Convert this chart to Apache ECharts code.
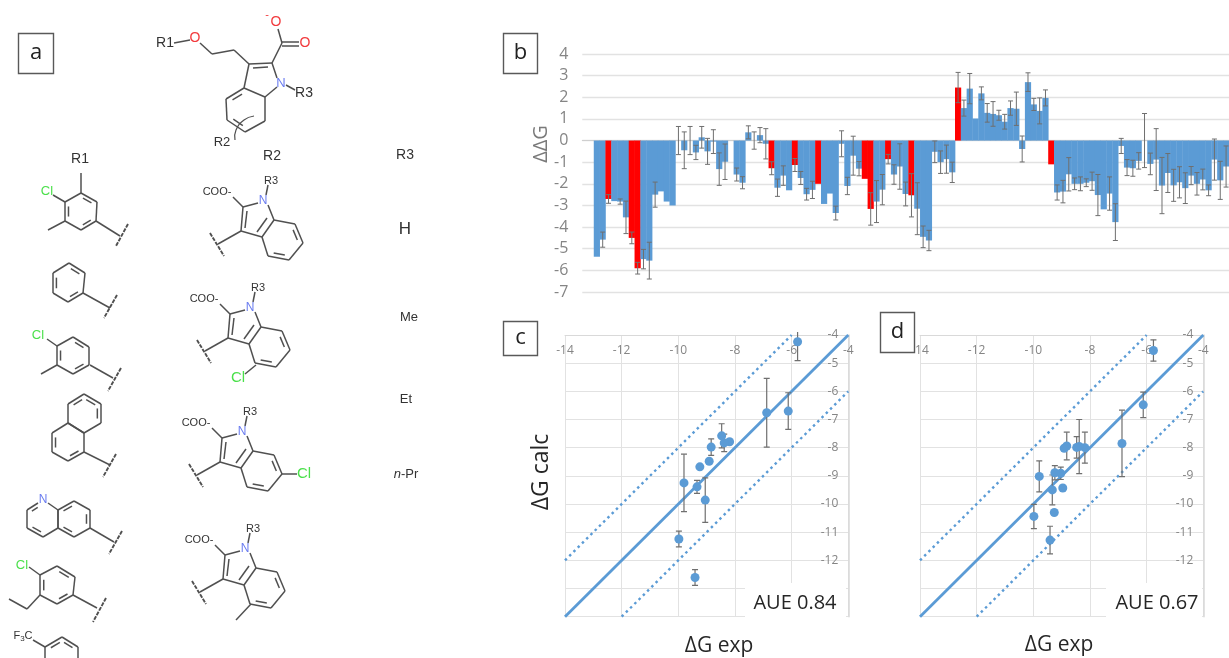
<!DOCTYPE html>
<html><head><meta charset="utf-8">
<style>html,body{margin:0;padding:0;background:#fff;overflow:hidden}#main{width:1229px;height:658px;filter:blur(0.7px)}</style>
<script src="https://cdn.jsdelivr.net/npm/echarts@6/dist/echarts.min.js"></script>
</head><body><div id="main"></div>
<script>
// Panel b: ddG per compound pair (null = no bar in the two leading slots)
const barValues = [null,null,-5.37,-4.58,-2.7,-2.8,-2.82,-3.55,-4.5,-5.9,-5.48,-5.55,-2.5,-2.35,-2.82,-3,
 0,-0.45,0,-0.55,0.15,-0.5,-0.05,-1.32,-0.98,0,-1.57,-1.95,0.38,0,0.25,-0.15,-1.28,-2.18,-1.62,-2.3,-1.13,-1.73,-2.48,-2.28,-2,-2.93,-2.45,-3.35,-0.15,-2.1,-0.7,-1.3,-1.77,
 -3.16,-2.82,-2.27,-0.86,-1.57,-1.2,-2.47,-2.53,-3.15,-4.45,-4.62,-0.52,-1,-0.86,-1.47,2.45,1.5,2.4,1.02,2.18,1.28,1.23,1.17,0.87,1.5,1.47,-0.39,2.7,1.67,1.37,1.97,-1.1,
 -2.4,-2.36,-1.56,-2,-2,-1.95,-1.88,-2.52,-3.18,-2.45,-3.77,-0.25,-1.25,-1.28,-0.94,0,-1.08,-0.88,-2.08,-1.5,-2.07,-1.93,-2.2,-1.62,-2,-1.8,-2.3,-0.88,-1.84,-1.2];
const barErrors = [0,0,0,0.35,0.2,0,0.12,0.75,0.27,0.27,0.45,0.85,0.58,0,0,0,
 0.65,0.85,0.65,0.33,0.5,0.6,0.55,0.75,0.82,0,0.3,0.28,0.3,0.4,0.35,0.7,0.3,0.4,0.45,0,0.3,0.3,0.27,0.4,0,0,0,0.32,0.6,0.4,0.9,0.33,0,
 0.75,0.97,0.7,0.22,0.45,1.05,0.55,1,1.2,0.5,0.47,0.5,0.52,0.65,0.47,0.7,0.37,0.7,0,0.3,0.43,0.57,0.23,0.34,0.33,0.77,0.6,0.43,0.28,0.6,0.37,0,
 0.35,0.52,0.77,0.27,0.32,0.18,0.42,0.95,0,0.77,0.85,0.35,0.37,0.37,0.38,1.25,0.5,1.43,1.3,0.9,0.74,0.72,0.71,0.42,0.52,0.48,0.25,0.95,0.88,0.95];
const redBars = [4,8,9,32,36,40,48,49,52,56,64,80];
const barTicks = [4,3,2,1,0,-1,-2,-3,-4,-5,-6,-7];

// Panel c: experimental, calculated, calculated error
const expC = [-5.79,-6.12,-6.88,-8.19,-8.38,-8.47,-8.84,-8.91,-9.24,-9.8,-9.34,-9.05,-9.98,-9.41];
const calcC = [-4.24,-6.7,-6.76,-7.79,-7.83,-7.58,-7.98,-8.48,-8.68,-9.25,-9.39,-9.86,-11.24,-12.61];
const errC = [0.67,0.65,1.22,0,0.31,0.43,0.29,0,0,1.02,0.23,0.79,0.28,0.28];
// Panel d
const expD = [-5.76,-6.12,-6.87,-8.18,-8.38,-8.47,-8.82,-8.91,-9.03,-9.24,-9.79,-8.96,-9.33,-9.26,-9.98,-9.41];
const calcD = [-4.55,-6.48,-7.85,-8,-7.96,-7.99,-7.94,-8.02,-8.91,-8.89,-9.02,-9.43,-9.5,-10.3,-10.44,-11.28];
const errD = [0.38,0.45,1.18,0.55,0.96,0.38,0.49,0,0.22,0.25,0.55,0,0.53,0,0.43,0.49];
// Reference lines
const lineIdentity = [[-14,-14],[-4,-4]];
const lineUpper = [[-14,-12],[-6,-4]];
const lineLower = [[-12,-14],[-4,-6]];

const BLUE='#5b9bd5', RED='#ff0000', GRID='#e2e2e2', TICK='#858585', BOND='#505050', ERR='#6f6f6f';
const SANS='"Open Sans",sans-serif', ARIAL='"Liberation Sans",sans-serif';
const chart = echarts.init(document.getElementById('main'),null,{renderer:'canvas'});

// ---------- error-bar renderers, all positioned through the axes ----------
function errRenderer(cap,lw){
  return function(params,api){
    const x=api.value(0), lo=api.coord([x,api.value(1)]), hi=api.coord([x,api.value(2)]);
    const st={stroke:ERR,lineWidth:lw};
    const cs=params.coordSys;
    return {type:'group',clipPath:{type:'rect',shape:{x:cs.x,y:cs.y-3,width:cs.width,height:cs.height+6}},children:[
      {type:'line',shape:{x1:lo[0],y1:lo[1],x2:hi[0],y2:hi[1]},style:st},
      {type:'line',shape:{x1:lo[0]-cap,y1:lo[1],x2:lo[0]+cap,y2:lo[1]},style:st},
      {type:'line',shape:{x1:hi[0]-cap,y1:hi[1],x2:hi[0]+cap,y2:hi[1]},style:st}]};
  };
}
const barErrData=[]; barValues.forEach((v,i)=>{ if(v!==null&&barErrors[i]>0) barErrData.push([i,v-barErrors[i],v+barErrors[i]]); });
function scatterErr(xs,ys,es){const o=[];xs.forEach((x,i)=>{if(es[i]>0)o.push([x,ys[i]-es[i],ys[i]+es[i]]);});return o;}

function panelSeries(idx,xs,ys,es){
  return [
   {type:'line',xAxisIndex:idx,yAxisIndex:idx,data:lineUpper,symbol:'none',silent:true,lineStyle:{color:BLUE,width:2.4,type:[2.5,3.5]},z:3},
   {type:'line',xAxisIndex:idx,yAxisIndex:idx,data:lineLower,symbol:'none',silent:true,lineStyle:{color:BLUE,width:2.4,type:[2.5,3.5]},z:3},
   {type:'line',xAxisIndex:idx,yAxisIndex:idx,data:lineIdentity,symbol:'none',silent:true,lineStyle:{color:BLUE,width:2.8},z:3},
   {type:'custom',xAxisIndex:idx,yAxisIndex:idx,data:scatterErr(xs,ys,es),renderItem:errRenderer(3,1.2),encode:{x:0,y:[1,2]},z:4,silent:true},
   {type:'scatter',xAxisIndex:idx,yAxisIndex:idx,data:xs.map((x,i)=>[x,ys[i]]),symbolSize:9,itemStyle:{color:BLUE,opacity:1},z:5,silent:true}
  ];
}
function panelX(gi){return {type:'value',gridIndex:gi,position:'top',min:-14,max:-4,interval:2,
  axisLine:{show:true,onZero:false,lineStyle:{color:'#d9d9d9'}},axisTick:{show:false},
  axisLabel:{inside:true,margin:10,color:TICK,fontSize:12,fontFamily:SANS,showMinLabel:true,showMaxLabel:true,hideOverlap:false},
  splitLine:{show:true,lineStyle:{color:GRID,width:1}}};}
function panelY(gi){return {type:'value',gridIndex:gi,position:'right',min:-14,max:-4,interval:1,
  axisLine:{show:true,onZero:false,lineStyle:{color:'#d9d9d9',width:1.5}},axisTick:{show:false},
  axisLabel:{inside:true,margin:10,color:TICK,fontSize:12,fontFamily:SANS,showMinLabel:true,showMaxLabel:true,hideOverlap:false},
  splitLine:{show:true,lineStyle:{color:GRID,width:1}}};}

// ---------- drawing helpers for the scheme in panel a ----------
const G=[];
const L=(a,b,w,dash)=>G.push({type:'line',silent:true,shape:{x1:a[0],y1:a[1],x2:b[0],y2:b[1]},style:{stroke:BOND,lineWidth:w||1.5,lineDash:dash||null}});
const T=(s,x,y,size,col,extra)=>G.push({type:'text',silent:true,x:x,y:y,z:60,style:Object.assign({text:s,fill:col||'#333',font:(size||13)+'px '+ARIAL,align:'center',verticalAlign:'middle'},extra||{})});
const chain=(p)=>{for(let i=0;i<p.length-1;i++)L(p[i],p[i+1]);};
function inner(a,b,c){
  const f=0.22, s=0.16;
  const a2=[a[0]+(c[0]-a[0])*f,a[1]+(c[1]-a[1])*f], b2=[b[0]+(c[0]-b[0])*f,b[1]+(c[1]-b[1])*f];
  L([a2[0]+(b2[0]-a2[0])*s,a2[1]+(b2[1]-a2[1])*s],[b2[0]-(b2[0]-a2[0])*s,b2[1]-(b2[1]-a2[1])*s]);
}
function ring(p,dbl){
  const c=[p.reduce((s,q)=>s+q[0],0)/p.length,p.reduce((s,q)=>s+q[1],0)/p.length];
  p.forEach((q,i)=>L(q,p[(i+1)%p.length]));
  (dbl||[]).forEach(i=>inner(p[i],p[(i+1)%p.length],c));
}
const wiggle=(a,b)=>{L(a,b,1.9,[4,1.2]);};
const GREEN='#4be04b', NBLUE='#6a7cf0', ORED='#f2393c';

// core structure
T('R1',165,43,14);T('O',195,38,14,ORED);T('O',276,22,14,ORED);T('-',267,15,11,ORED);T('O',305,43,14,ORED);T('N',281,83,13,NBLUE);T('R3',304,93,14);T('R2',222,142,13);
L([174,43],[190,40]);chain([[200,43],[212,54],[234,50],[249,64]]);
L([249,64],[272,63]);L([253,68],[268,67]);L([272,63],[282,43]);L([282,43],[278,29]);
L([282,42],[299,42]);L([282,46],[299,46]);L([272,63],[277,78]);L([286,85],[295,90]);L([277,87],[265,97]);L([249,64],[244,88]);
ring([[244,88],[226,99],[227,120],[245,132],[265,121],[265,97]],[0,2]);
G.push({type:'polyline',silent:true,shape:{points:[[235,140],[236,130],[244,120],[254,116]],smooth:0.5},style:{stroke:BOND,lineWidth:1.2,fill:'none'}});

// column heads and R3 list
T('R1',80,159,14);T('R2',272,156,14);T('R3',405,155,14);T('H',405,229,17);T('Me',409,317,13);T('Et',406,399,13);
G.push({type:'text',silent:true,x:406,y:474,style:{text:'{i|n}-Pr',font:'13px '+ARIAL,fill:'#333',align:'center',verticalAlign:'middle',rich:{i:{fontStyle:'italic',fontSize:13,fontFamily:ARIAL,fill:'#333'}}}});

// R1 fragments
ring([[81,193],[97,202],[96,221],[81,230],[65,221],[65,202]],[0,2,4]);L([81,193],[81,173]);L([65,202],[53,195]);L([65,221],[48,230]);L([96,221],[120,236]);wiggle([128,224],[116,246]);T('Cl',47,191,13,GREEN);
ring([[69,263],[85,273],[83,293],[68,302],[53,293],[53,273]],[0,2,4]);L([83,293],[110,308]);wiggle([117,295],[104,318]);
ring([[73,337],[89,347],[89,365],[73,374],[57,365],[57,346]],[0,2,4]);L([57,346],[47,339]);L([57,365],[41,374]);L([90,365],[113,378]);wiggle([121,368],[108,391]);T('Cl',38,335,13,GREEN);
ring([[84,394],[101,404],[101,423],[84,433],[68,423],[68,404]],[0,1,5]);ring([[68,423],[84,433],[84,452],[68,461],[52,452],[52,433]],[2,4]);L([84,452],[110,465]);wiggle([116,454],[103,477]);
chain([[38,503],[27,510],[27,528],[43,537],[58,528],[58,510],[48,503]]);inner([27,510],[38,503],[43,519]);inner([27,528],[43,537],[43,519]);
ring([[58,510],[74,501],[90,510],[90,528],[74,537],[58,528]],[0,2,4]);L([90,528],[114,542]);wiggle([122,531],[109,554]);T('N',43,500,12,NBLUE);
ring([[57,566],[75,577],[73,595],[57,604],[40,595],[40,575]],[0,2,4]);L([40,575],[29,567]);chain([[40,595],[27,609],[9,599]]);L([73,595],[97,608]);wiggle([106,598],[93,622]);T('Cl',22,565,13,GREEN);
chain([[45,665],[45,647],[62,637],[78,647],[78,665]]);inner([45,647],[62,637],[62,656]);inner([62,637],[78,647],[62,656]);L([33,640],[45,647]);
G.push({type:'text',silent:true,x:23,y:636,style:{text:'F{s|3}C',font:'11px '+ARIAL,fill:'#333',align:'center',verticalAlign:'middle',rich:{s:{fontSize:8,fontFamily:ARIAL,fill:'#333',verticalAlign:'bottom',padding:[6,0,0,0]}}}});

// R2 fragments
function indole(dx,dy){
  const P=(x,y)=>[x+dx,y+dy];
  T('COO-',217+dx,192+dy,11);T('R3',271+dx,181+dy,11);T('N',263+dx,201+dy,12,NBLUE);
  L(P(266,195),P(268,185));L(P(233,197),P(243,207));L(P(243,207),P(258,203));L(P(268,205),P(274,220));
  L(P(243,207),P(241,231));L(P(247,211),P(245,228));L(P(241,231),P(262,237));L(P(241,231),P(218,244));wiggle(P(210,233),P(224,256));
  L(P(257,232),P(267,218)); // inner line of the fused double bond
  ring([P(274,220),P(295,224),P(303,243),P(289,260),P(268,256),P(262,237)],[1,3]);
}
indole(0,0);
indole(-13,107);L([256,365],[245,374]);T('Cl',238,378,15,GREEN);
indole(-21,231);L([282,474],[297,474]);T('Cl',304,474,15,GREEN);
indole(-18,348);L([251,604],[236,620]);

// panel tags
function tag(s,x,y,w,h){
  G.push({type:'rect',silent:true,shape:{x:x,y:y,width:w,height:h},z:55,style:{fill:'#fff',stroke:'#595959',lineWidth:1.4}});
  T(s,x+w/2,y+h/2-1,22,'#222',{font:'22px '+SANS});
}
tag('a',18.5,33.5,35,40);tag('b',503.5,33.5,34,40);tag('c',503.5,321.5,34,34);tag('d',880.5,312.5,34,40);

// panel text
const big=(s,x,y,size,rot,col)=>G.push({type:'text',silent:true,x:x,y:y,rotation:rot||0,z:60,style:{text:s,fill:col||'#262626',font:size+'px '+SANS,align:'center',verticalAlign:'middle'}});
big('\u0394\u0394G',541,144,20,Math.PI/2,'#7a7a7a');
big('\u0394G calc',541,472,23,Math.PI/2);
big('\u0394G exp',719,646,21);big('\u0394G exp',1059,645,21);
G.push({type:'rect',silent:true,z:50,shape:{x:745,y:583,width:101,height:40},style:{fill:'#fff'}});
G.push({type:'rect',silent:true,z:50,shape:{x:1106,y:583,width:96,height:40},style:{fill:'#fff'}});
big('AUE 0.84',795,603,20);big('AUE 0.67',1157,603,20);

const option={
 animation:false,backgroundColor:'#fff',
 grid:[
  {left:582.3,top:54,width:651.6,height:238},
  {left:565,top:335,width:283.3,height:281.7},
  {left:920,top:335,width:283.3,height:281.7}],
 xAxis:[
  {type:'category',gridIndex:0,data:barValues.map((_,i)=>String(i)),axisTick:{show:false},axisLabel:{show:false},
   axisLine:{show:true,onZero:true,lineStyle:{color:'#cfcfcf'}},splitLine:{show:false}},
  panelX(1),panelX(2)],
 yAxis:[
  {type:'value',gridIndex:0,min:-7,max:4,interval:1,axisLine:{show:false},axisTick:{show:false},
   axisLabel:{margin:14,color:TICK,fontSize:16,fontFamily:SANS,customValues:barTicks},splitLine:{show:true,lineStyle:{color:GRID,width:1.4}}},
  panelY(1),panelY(2)],
 series:[
  {type:'bar',xAxisIndex:0,yAxisIndex:0,barWidth:6.2,barGap:0,silent:true,z:2,
   data:barValues.map((v,i)=>({value:v,itemStyle:{color:redBars.includes(i)?RED:BLUE}}))},
  {type:'custom',xAxisIndex:0,yAxisIndex:0,data:barErrData,renderItem:errRenderer(2.5,1),encode:{x:0,y:[1,2]},z:4,silent:true},
  ...panelSeries(1,expC,calcC,errC),
  ...panelSeries(2,expD,calcD,errD)
 ],
 graphic:{elements:G}
};
chart.setOption(option);
</script></body></html>
